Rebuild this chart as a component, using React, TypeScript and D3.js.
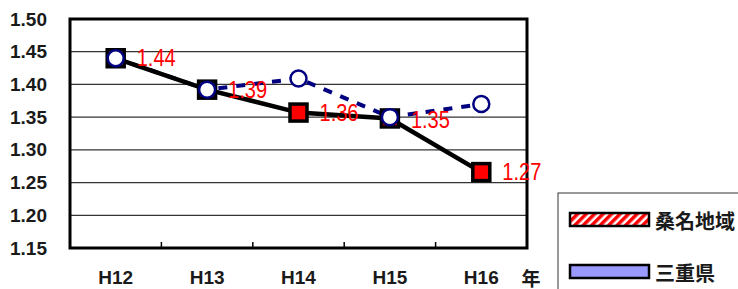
import React from "react";
import * as d3 from "d3";

const years = ["H12", "H13", "H14", "H15", "H16"];
const kuwana = [1.44, 1.392, 1.357, 1.348, 1.266];
const mie = [1.44, 1.392, 1.409, 1.35, 1.37];
const yTicks = [1.15, 1.2, 1.25, 1.3, 1.35, 1.4, 1.45, 1.5];
const legendNames = ["桑名地域", "三重県"];

const W = 738;
const H = 289;
const left = 70;
const right = 527;
const top = 19;
const bottom = 248;

const App: React.FC = () => {
  const x = d3.scaleBand().domain(years).range([left, right]);
  const y = d3.scaleLinear().domain([1.15, 1.5]).range([bottom, top]);
  const cx = (d: string) => (x(d) as number) + x.bandwidth() / 2;

  const line = d3
    .line<number>()
    .x((_, i) => cx(years[i]))
    .y((d) => y(d));

  const font = "'Liberation Sans', Arial, sans-serif";
  const cjk = "'Noto Sans CJK JP', sans-serif";

  return (
    <svg
      width={W}
      height={H}
      style={{ position: "absolute", left: 0, top: 0, background: "#fff" }}
    >
      <defs>
        <pattern
          id="stripe"
          width="6"
          height="6"
          patternUnits="userSpaceOnUse"
          patternTransform="rotate(45)"
        >
          <rect width="6" height="6" fill="#fff" />
          <rect width="3.5" height="6" fill="#ff0000" />
        </pattern>
      </defs>

      {/* gridlines */}
      {yTicks.map((t) => (
        <line
          key={t}
          x1={left}
          x2={right}
          y1={y(t)}
          y2={y(t)}
          stroke="#333"
          strokeWidth={1.3}
        />
      ))}

      {/* y labels */}
      {yTicks.map((t) => (
        <text
          key={"l" + t}
          x={47}
          y={y(t)}
          textAnchor="end"
          dominantBaseline="central"
          fontFamily={font}
          fontSize={19}
          fontWeight="bold"
          fill="#1a1a1a"
        >
          {t.toFixed(2)}
        </text>
      ))}

      {/* x ticks */}
      {years.slice(1).map((d) => (
        <line
          key={"t" + d}
          x1={x(d)}
          x2={x(d)}
          y1={bottom}
          y2={bottom - 6}
          stroke="#000"
          strokeWidth={1.5}
        />
      ))}

      {/* frame */}
      <rect
        x={left}
        y={top}
        width={right - left}
        height={bottom - top}
        fill="none"
        stroke="#000"
        strokeWidth={3}
      />

      {/* x labels */}
      {years.map((d) => (
        <text
          key={"x" + d}
          x={cx(d)}
          y={277}
          textAnchor="middle"
          dominantBaseline="central"
          fontFamily={font}
          fontSize={19}
          fontWeight="bold"
          fill="#1a1a1a"
        >
          {d}
        </text>
      ))}
      <text
        x={531}
        y={277}
        textAnchor="middle"
        dominantBaseline="central"
        fontFamily={cjk}
        fontSize={19}
        fontWeight="bold"
        fill="#1a1a1a"
      >
        年
      </text>

      {/* series */}
      <path
        d={line(mie) as string}
        fill="none"
        stroke="#000080"
        strokeWidth={4}
        strokeDasharray="9,9"
      />
      <path
        d={line(kuwana) as string}
        fill="none"
        stroke="#000"
        strokeWidth={4.5}
      />
      {kuwana.map((v, i) => (
        <rect
          key={"s" + i}
          x={cx(years[i]) - 8.5}
          y={y(v) - 8.5}
          width={17}
          height={17}
          fill="#ff0000"
          stroke="#000"
          strokeWidth={3.5}
        />
      ))}
      {mie.map((v, i) => (
        <circle
          key={"c" + i}
          cx={cx(years[i])}
          cy={y(v)}
          r={8}
          fill="#fff"
          stroke="#000080"
          strokeWidth={2.5}
        />
      ))}
      {kuwana.map((v, i) => (
        <text
          key={"v" + i}
          x={cx(years[i]) + 21}
          y={y(v) + (i === 3 ? 2 : 0)}
          dominantBaseline="central"
          fontFamily={font}
          fontSize={23}
          textLength={39}
          lengthAdjust="spacingAndGlyphs"
          fill="#ff0000"
        >
          {v.toFixed(2)}
        </text>
      ))}

      {/* legend */}
      <rect
        x={558}
        y={193}
        width={190}
        height={110}
        fill="#fff"
        stroke="#333"
        strokeWidth={1}
      />
      <rect
        x={570}
        y={213}
        width={79}
        height={13}
        fill="url(#stripe)"
        stroke="#000"
        strokeWidth={2.5}
      />
      <rect
        x={570}
        y={265}
        width={79}
        height={13}
        fill="#9999ff"
        stroke="#000"
        strokeWidth={2.5}
      />
      {legendNames.map((n, i) => (
        <text
          key={n}
          x={655}
          y={i === 0 ? 220 : 272}
          dominantBaseline="central"
          fontFamily={cjk}
          fontSize={20}
          fontWeight="bold"
          fill="#1a1a1a"
        >
          {n}
        </text>
      ))}
    </svg>
  );
};

export default App;
